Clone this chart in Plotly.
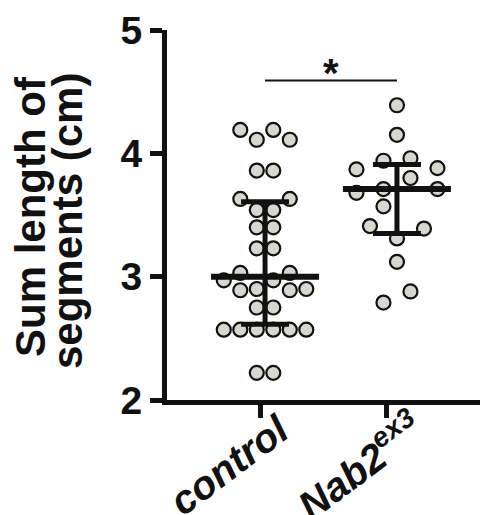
import numpy as np
import plotly.graph_objects as go

# ---------------- data ----------------
categories = ["control", "Nab2<sup>ex3</sup>"]
control_values = [4.19, 4.11, 4.19, 4.11, 3.86, 3.86, 3.63, 3.63, 3.54, 3.54,
                  3.40, 3.40, 3.23, 3.23, 3.03, 3.03, 2.97, 2.97, 2.90, 2.90,
                  2.89, 2.89, 2.75, 2.75, 2.57, 2.57, 2.57, 2.57, 2.57, 2.57,
                  2.22, 2.22]
nab2_values = [4.39, 4.15, 3.94, 3.96, 3.87, 3.88, 3.80, 3.68, 3.71, 3.71,
               3.57, 3.41, 3.39, 3.31, 3.12, 2.88, 2.79]
y_ticks = [2, 3, 4, 5]
y_title_lines = ["Sum length of", "segments (cm)"]
significance = "*"

# ---------------- layout / style (not data) ----------------
# swarm slot offsets (in dot-slot units) for each point, matched to order above
control_slots = [-1.5, -0.5, 0.5, 1.5, -0.5, 0.5, -1.5, 1.5, -0.5, 0.5,
                 -0.5, 0.5, -0.5, 0.5, -1.5, 1.5, -2.5, 0.5, 2.5, -0.5,
                 -1.5, 1.5, -0.5, 0.5, -2.5, -1.5, -0.5, 0.5, 1.5, 2.5,
                 -0.5, 0.5]
nab2_slots = [0, 0, -1, 1, -3, 3, 1, -3, -1, 3, -1, -2, 2, 0, 0, 1, -1]
PX_PER_UNIT = 126.0
control_step = 16.5 / PX_PER_UNIT
nab2_step = 13.5 / PX_PER_UNIT
centers = [0.04, 1.087]
median_half = 54 / PX_PER_UNIT
cap_half = 24 / PX_PER_UNIT
SIG_Y = 4.59
label_shift = [(-31, -65), (-27, -65)]   # px offsets of rotated category labels

L, R, T, B = 167, 0, 30, 115
W, H = 480, 515
plot_w = W - L - R
plot_h = H - T - B
x_left = -(260 - L) / PX_PER_UNIT
x_right = x_left + plot_w / PX_PER_UNIT

FONT = "Liberation Sans, Arial, sans-serif"
DOT_FILL = "#d7d6cf"
INK = "#111111"

fig = go.Figure()

groups = [(control_values, control_slots, control_step),
          (nab2_values, nab2_slots, nab2_step)]

for gi, (vals, slots, step) in enumerate(groups):
    c = centers[gi]
    xs = [c + s * step for s in slots]
    fig.add_trace(go.Scatter(
        x=xs, y=vals, mode="markers",
        marker=dict(size=14, color=DOT_FILL, line=dict(color=INK, width=2.2)),
        showlegend=False, hoverinfo="y"))

for gi, (vals, slots, step) in enumerate(groups):
    c = centers[gi]
    arr = np.array(vals)
    med = float(np.median(arr))
    q1, q3 = [float(v) for v in np.percentile(arr, [25, 75], method="weibull")]
    # median line
    fig.add_trace(go.Scatter(x=[c - median_half, c + median_half], y=[med, med],
                             mode="lines", line=dict(color=INK, width=6),
                             showlegend=False, hoverinfo="skip"))
    # whisker
    fig.add_trace(go.Scatter(x=[c, c], y=[q1, q3], mode="lines",
                             line=dict(color=INK, width=5),
                             showlegend=False, hoverinfo="skip"))
    for q in (q1, q3):
        fig.add_trace(go.Scatter(x=[c - cap_half, c + cap_half], y=[q, q],
                                 mode="lines", line=dict(color=INK, width=5),
                                 showlegend=False, hoverinfo="skip"))

# significance bar
fig.add_trace(go.Scatter(x=[centers[0], centers[1]], y=[SIG_Y, SIG_Y], mode="lines",
                         line=dict(color=INK, width=2), showlegend=False,
                         hoverinfo="skip"))
fig.add_annotation(x=(centers[0] + centers[1]) / 2, y=SIG_Y, xref="x", yref="y",
                   text=significance, showarrow=False, yanchor="middle", yshift=8,
                   font=dict(family=FONT, size=40, color=INK, weight="bold"))

# y-axis title as two rotated lines
title_px = [(31, 217), (67, 221)]
for line, (px, py) in zip(y_title_lines, title_px):
    fig.add_annotation(x=(px - L) / plot_w, y=(H - B - py) / plot_h,
                       xref="paper", yref="paper", text=line, showarrow=False,
                       textangle=-90, xanchor="center", yanchor="middle",
                       font=dict(family=FONT, size=42, color=INK, weight="bold"))

# rotated category labels
for i, (lab, (dx, dy)) in enumerate(zip(categories, label_shift)):
    fig.add_annotation(x=i, y=0, xref="x", yref="paper", text="<i>" + lab + "</i>",
                       showarrow=False, textangle=-37, xanchor="center",
                       yanchor="middle", xshift=dx, yshift=dy,
                       font=dict(family=FONT, size=40, color=INK, weight="bold",
                                 style="italic"))

fig.update_layout(
    width=W, height=H,
    margin=dict(l=L, r=R, t=T, b=B, pad=0, autoexpand=False),
    paper_bgcolor="white", plot_bgcolor="white",
    xaxis=dict(range=[x_left, x_right], tickvals=[0, 1], showticklabels=False,
               automargin=False,
               showgrid=False, zeroline=False, showline=True, linecolor=INK,
               linewidth=5, ticks="outside", ticklen=13, tickwidth=5,
               tickcolor=INK),
    yaxis=dict(range=[2, 5], tickvals=y_ticks, showgrid=False, zeroline=False,
               automargin=False,
               showline=True, linecolor=INK, linewidth=5, ticks="outside",
               ticklen=12, tickwidth=5, tickcolor=INK,
               tickfont=dict(family=FONT, size=39, color=INK, weight="bold")),
)

fig.write_html("out.html")
